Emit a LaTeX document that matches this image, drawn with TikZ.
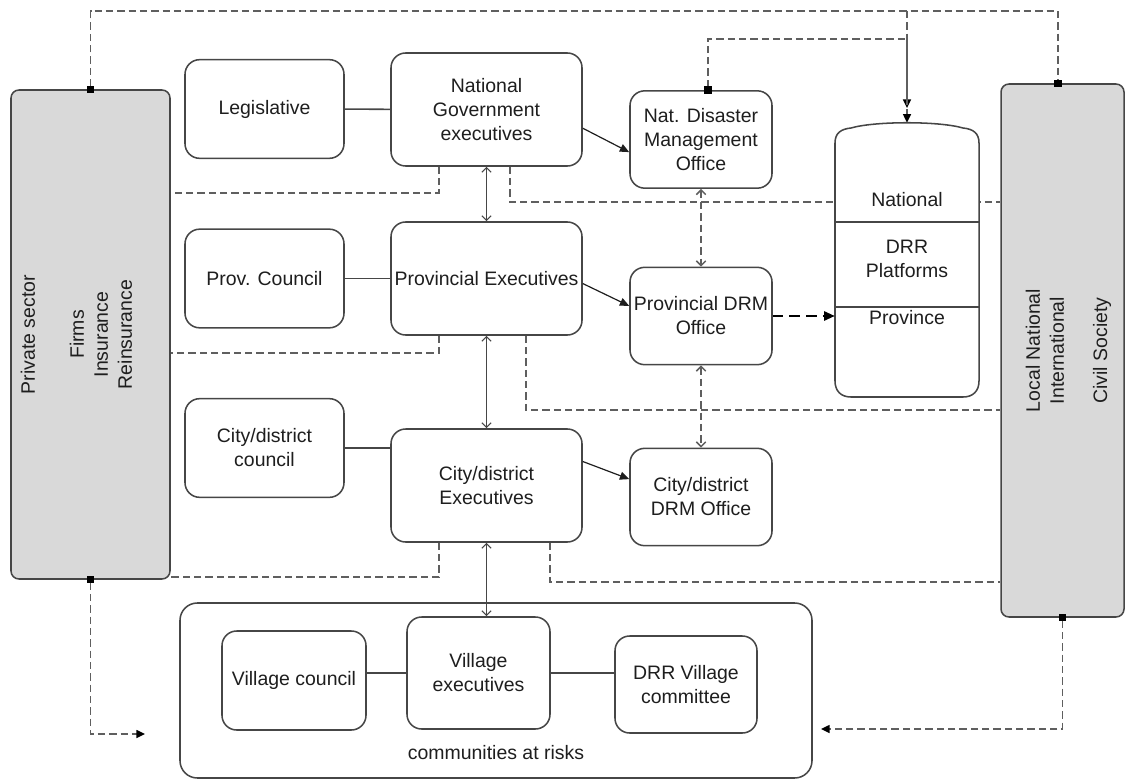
\documentclass[tikz,border=0pt]{standalone}
\usepackage{fontspec}
\setmainfont{Liberation Sans}
\usepackage{tikz}
\usetikzlibrary{arrows.meta,positioning}
\definecolor{sidegray}{RGB}{217,217,217}
\definecolor{edgegray}{RGB}{70,70,70}
\definecolor{dashgray}{RGB}{95,95,95}
\definecolor{inkgray}{RGB}{30,30,30}

\begin{document}
\begin{tikzpicture}[x=0.75pt,y=-0.75pt,
  font=\fontsize{14.6}{18}\selectfont, text=inkgray,
  box/.style={draw=edgegray,line width=1.15pt,rounded corners=11pt,fill=white,align=center,inner sep=0pt},
  council/.style={box,minimum width=119.25pt,minimum height=74pt},
  exec/.style={box,minimum width=143.25pt,minimum height=84.75pt},
  office/.style={box,minimum width=106.5pt,minimum height=73pt},
  side/.style={draw=edgegray,line width=1.15pt,fill=sidegray,rounded corners=6pt,inner sep=0pt},
  link/.style={draw=edgegray,line width=1.15pt},
  feed/.style={-{Triangle[length=7pt,width=6pt]},draw=inkgray,line width=0.9pt},
  dual/.style={{Straight Barb[length=3.5pt,width=7pt]}-{Straight Barb[length=3.5pt,width=7pt]},draw=edgegray,line width=0.8pt},
  dline/.style={draw=dashgray,line width=1.1pt,dash pattern=on 5.5pt off 3pt},
  pinned/.style={{Square[length=5.5pt,width=5.5pt,color=black]}-{Triangle[length=6.5pt,width=6pt,color=black]},shorten <=-2.75pt},
  twopin/.style={{Square[length=5.5pt,width=5.5pt,color=black]}-{Square[length=5.5pt,width=5.5pt,color=black]},shorten <=-2.75pt,shorten >=-2.75pt}
]
\useasboundingbox (0,0) rectangle (1130,784);

% side boxes
\node[side,minimum width=119.25pt,minimum height=366.75pt] (ps) at (90.5,334.5) {};
\node[side,minimum width=92.25pt,minimum height=399.75pt] (cs) at (1062.5,350.5) {};
\node[rotate=90] (pslab) at (28,334.5) {Private sector};
\node[rotate=90,align=center] (psfirms) at (101,334.5) {Firms\\Insurance\\Reinsurance};
\node[rotate=90,align=center] (cslab) at (1045,350.5) {Local National\\International};
\node[rotate=90] (cscivil) at (1102,350.5) {Civil Society};

% government levels
\node[council] (leg) at (264.5,109) {Legislative};
\node[exec] (ng) at (486.5,109.5) {National\\Government\\executives};
\node[office] (ndmo) at (701,139.5) {Nat. Disaster\\Management\\Office};
\node[council] (pc) at (264.5,278.5) {Prov. Council};
\node[exec] (pe) at (486.5,278.5) {Provincial Executives};
\node[office] (pdrm) at (701,316) {Provincial DRM\\Office};
\node[council] (cc) at (264.5,448) {City/district\\council};
\node[exec] (ce) at (486.5,485.5) {City/district\\Executives};
\node[office] (cdrm) at (701,497) {City/district\\DRM Office};
\node[minimum width=108pt,minimum height=205.5pt,inner sep=0pt] (plat) at (907,260) {};

% village level
\node[draw=edgegray,line width=1.15pt,rounded corners=13pt,minimum width=474pt,minimum height=131.25pt] (cr) at (496,690.5) {};
\node (crlab) at (496,753) {communities at risks};
\node[office,minimum width=108pt,minimum height=74.25pt] (vc) at (294,680.5) {Village council};
\node[office,minimum width=107.25pt,minimum height=84pt] (ve) at (478.5,673) {Village\\executives};
\node[office,minimum height=72.75pt] (dvc) at (686,684.5) {DRR Village\\committee};

\draw[link] (leg) -- (ng);
\draw[link] (pc) -- (pe);
\draw[link] (cc.east) -- (cc.east -| ce.west);
\draw[link] (ve.west) -- (ve.west -| vc.east);
\draw[link] (ve.east) -- (ve.east -| dvc.west);

\draw[feed] (ng.-11) -- (ndmo.190);
\draw[feed] (pe.-3) -- (pdrm.172);
\draw[feed] (ce.14) -- (cdrm.166);

\draw[dual] (ng) -- (pe);
\draw[dual] (pe) -- (ce);
\draw[dual] (ce.south) -- (ce.south |- ve.north);
\draw[dual,dline] (ndmo) -- (pdrm);
\draw[dual,dline] (pdrm) -- (cdrm);

% dashed ties to private sector and civil society
\draw[dline] (ng.south -| 439,0) |- (ps.east |- 0,193);
\draw[dline] (pe.south -| 439,0) |- (ps.east |- 0,353);
\draw[dline] (ce.south -| 439,0) |- (ps.east |- 0,577);
\draw[dline] (ng.south -| 510,0) |- (cs.west |- 0,202);
\draw[dline] (pe.south -| 526,0) |- (cs.west |- 0,410);
\draw[dline] (ce.south -| 550,0) |- (cs.west |- 0,582);

\draw[dline,twopin] (ps.north) -- (ps.north |- 0,11) -| (cs.91);
\draw[dline,-{Triangle[length=6.5pt,width=6pt,color=black]},shorten >=11pt] (plat.north |- 0,11) -- (plat.north);
\draw[dline,pinned] (ndmo.82) |- (plat.north |- 0,39) -- (plat.north);

\coordinate (psin) at (145,734);
\coordinate (csin) at (821,729);
\draw[dline,pinned] (ps.south) |- (psin);
\draw[dline,pinned] (cs.south) |- (csin);

% DRR platforms
\draw[draw=edgegray,line width=1.15pt,fill=white] (835,143) .. controls (835,133) and (841,129) .. (851,128)
  .. controls (875,121) and (939,121) .. (963,128) .. controls (973,129) and (979,133) .. (979,143)
  -- (979,381) .. controls (979,391) and (973,397) .. (963,397) -- (851,397)
  .. controls (841,397) and (835,391) .. (835,381) -- cycle;
\draw[link] (835,222) -- (979,222);
\draw[link] (835,307) -- (979,307);
\node (natl) at (907,200) {National};
\node[align=center] (drrp) at (907,259) {DRR\\Platforms};
\node (prov) at (907,318) {Province};

\draw[draw=black,line width=1.3pt,dash pattern=on 8pt off 4.5pt,-{Triangle[length=8pt,width=7pt]}] (pdrm.east) -- (pdrm.east -| plat.west);
\end{tikzpicture}
\end{document}
